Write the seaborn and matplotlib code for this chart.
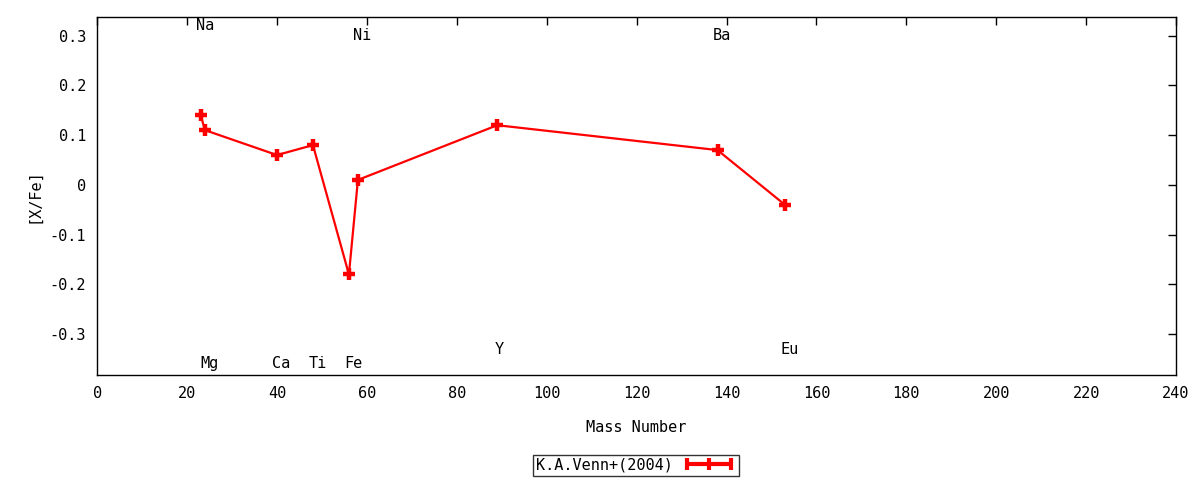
import matplotlib
matplotlib.use("Agg")
import matplotlib.pyplot as plt
import seaborn as sns
import pandas as pd
from matplotlib.lines import Line2D

elements = ["Na", "Mg", "Ca", "Ti", "Fe", "Ni", "Y", "Ba", "Eu"]
mass = [23, 24, 40, 48, 56, 58, 89, 138, 153]
xfe = [0.14, 0.11, 0.06, 0.08, -0.18, 0.01, 0.12, 0.07, -0.04]
label_x = [24, 25, 41, 49, 57, 59, 89.5, 139, 154]
label_y = [0.32, -0.36, -0.36, -0.36, -0.36, 0.30, -0.33, 0.30, -0.33]
series_name = "K.A.Venn+(2004)"

sns.set_theme(style="white")
plt.rcParams["font.family"] = ["DejaVu Sans Mono", "DejaVu Sans"]
plt.rcParams["text.color"] = "black"
plt.rcParams["axes.labelcolor"] = "black"

fig = plt.figure(figsize=(12, 4.8), dpi=100)
ax = fig.add_axes([0.081, 0.219, 0.899, 0.746])

df = pd.DataFrame({"mass": mass, "xfe": xfe})
sns.lineplot(data=df, x="mass", y="xfe", ax=ax, color="#ff0000", lw=1.6,
             sort=False, legend=False)
ax.plot(df["mass"], df["xfe"], ls="none", marker="+", ms=9, mew=3.2, color="#ff0000")

for el, lx, ly in zip(elements, label_x, label_y):
    ax.text(lx, ly, el, ha="center", va="center", fontsize=11, color="black")

ax.set_xlim(0, 240)
ax.set_ylim(-0.382, 0.338)
ax.set_xticks(range(0, 241, 20))
ax.set_yticks([-0.3, -0.2, -0.1, 0, 0.1, 0.2, 0.3])
ax.set_yticklabels(["-0.3", "-0.2", "-0.1", "0", "0.1", "0.2", "0.3"])
ax.tick_params(direction="in", length=6, width=1, top=True, right=True,
               labelsize=11, colors="black", pad=8)
for s in ax.spines.values():
    s.set_color("black")
    s.set_linewidth(1)
ax.set_xlabel("Mass Number", fontsize=11, labelpad=14)
ax.set_ylabel("[X/Fe]", fontsize=11, labelpad=6)

handle = Line2D([], [], color="#ff0000", lw=3, marker="|", ms=9, mew=3)
leg = fig.legend([handle], [series_name], loc="center", bbox_to_anchor=(0.53, 0.031),
                 numpoints=3, markerfirst=False, fontsize=11, frameon=True,
                 fancybox=False, handlelength=3.5, borderpad=0.2, handletextpad=0.6,
                 borderaxespad=0)
leg.get_frame().set_edgecolor("black")
leg.get_frame().set_linewidth(1)

fig.savefig("out.png", dpi=100, facecolor="white")
